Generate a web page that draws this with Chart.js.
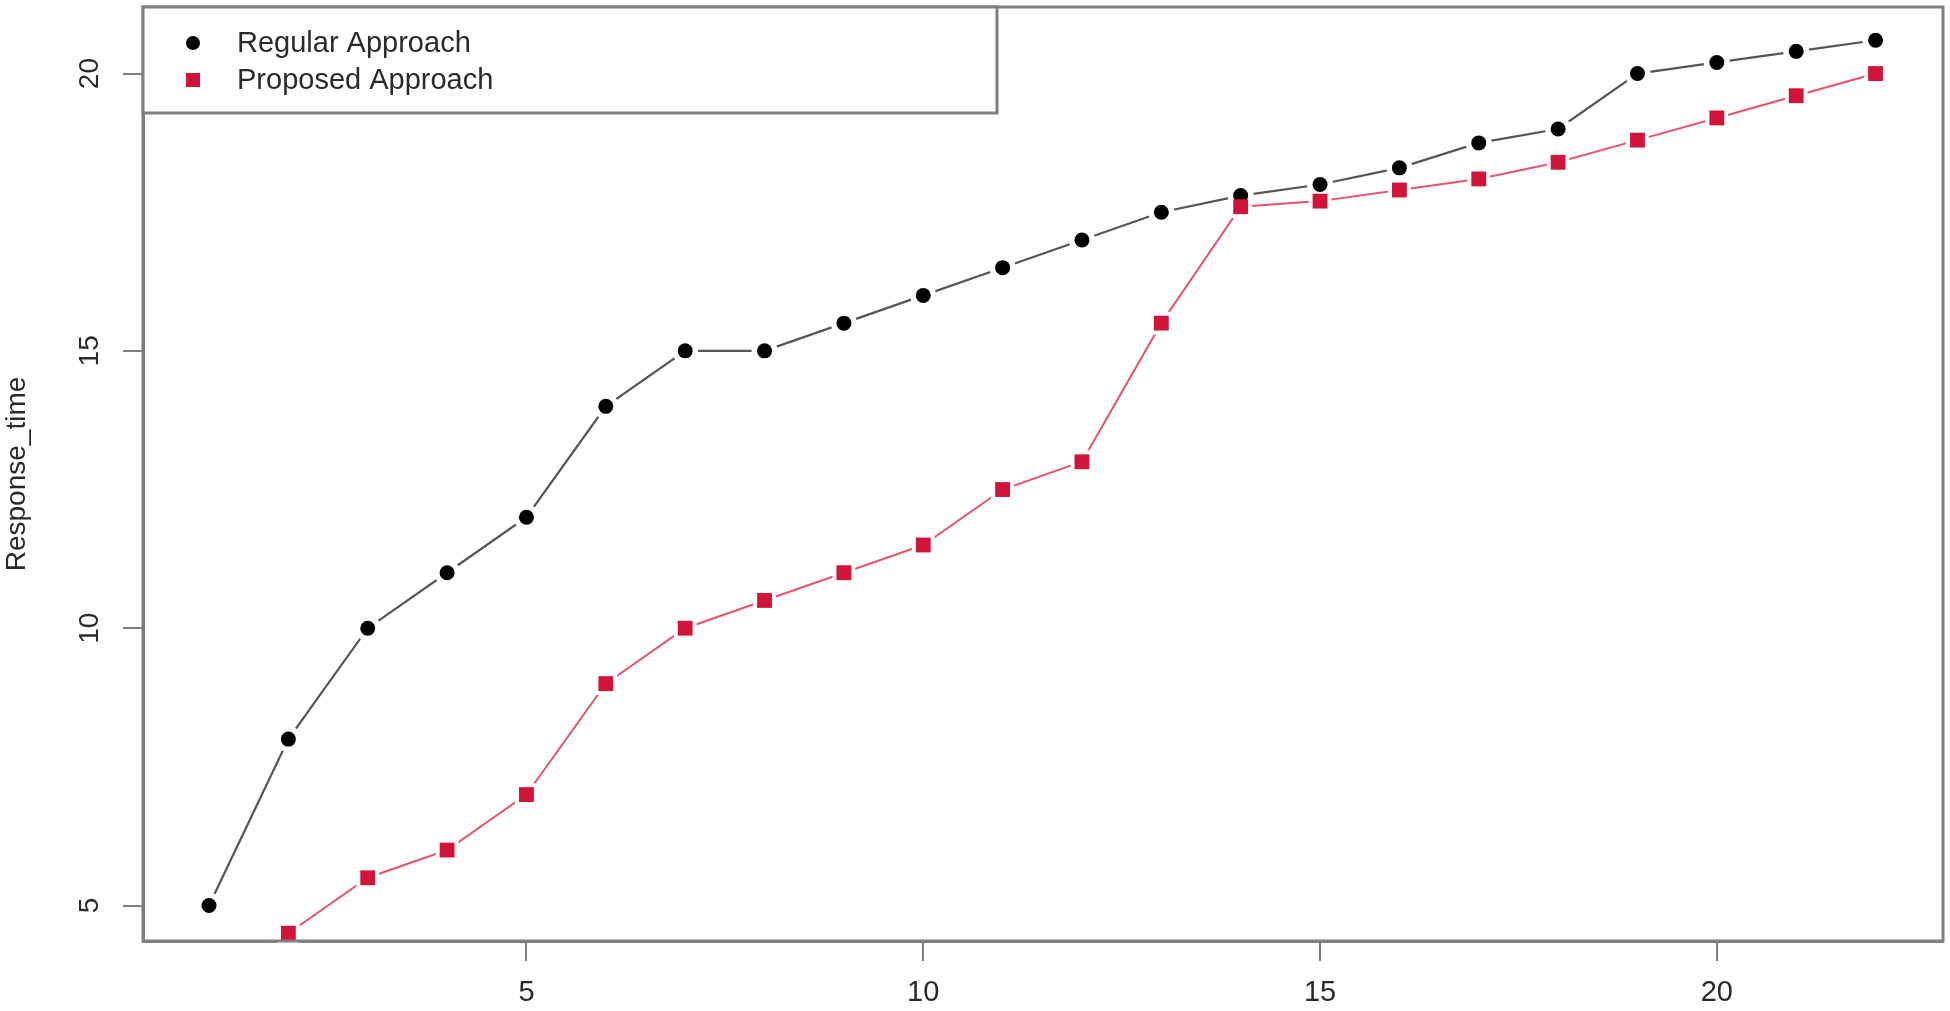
<!DOCTYPE html>
<html>
<head>
<meta charset="utf-8">
<script src="https://cdn.jsdelivr.net/npm/chart.js@4.4.1/dist/chart.umd.min.js"></script>
<style>
  html, body { margin: 0; padding: 0; background: #fff; }
  #box { width: 1950px; height: 1011px; }
</style>
</head>
<body>
<div id="box"><canvas id="grafico" width="1950" height="1011"></canvas></div>
<script>
const passos = [1, 2, 3, 4, 5, 6, 7, 8, 9, 10, 11, 12, 13, 14, 15, 16, 17, 18, 19, 20, 21, 22];
const regular = [5, 8, 10, 11, 12, 14, 15, 15, 15.5, 16, 16.5, 17, 17.5, 17.8, 18, 18.3, 18.75, 19, 20, 20.2, 20.4, 20.6];
const proposto = [null, 4.5, 5.5, 6, 7, 9, 10, 10.5, 11, 11.5, 12.5, 13, 15.5, 17.6, 17.7, 17.9, 18.1, 18.4, 18.8, 19.2, 19.6, 20];
const ticksX = [5, 10, 15, 20];
const ticksY = [5, 10, 15, 20];
const nomes = ['Regular Approach', 'Proposed Approach'];

const fonte = 'Liberation Sans, Arial, Helvetica, sans-serif';
const corEixo = '#7f7f7f';
const corTexto = '#2a2a2a';

const pontos = serie => passos
  .map((p, i) => ({ x: p, y: serie[i] }))
  .filter(p => p.y !== null);

// moldura, rotulos do eixo y (rodados como no R) e legenda com caixa
const extras = {
  id: 'extras',
  afterDatasetsDraw(chart) {
    const { ctx, chartArea: a } = chart;
    ctx.save();
    ctx.strokeStyle = corEixo;
    ctx.lineWidth = 3;
    ctx.strokeRect(a.left, a.top, a.right - a.left, a.bottom - a.top);
    ctx.restore();
  },
  afterDraw(chart) {
    const { ctx, chartArea: a } = chart;
    const y = chart.scales.y;
    ctx.save();
    ctx.fillStyle = corTexto;
    ctx.font = '28px ' + fonte;
    ctx.textAlign = 'center';
    ctx.textBaseline = 'middle';
    ticksY.forEach(v => {
      ctx.save();
      ctx.translate(90, y.getPixelForValue(v));
      ctx.rotate(-Math.PI / 2);
      ctx.fillText(String(v), 0, 0);
      ctx.restore();
    });

    // legenda
    const bx = a.left, by = a.top, bw = 997 - a.left, bh = 113 - a.top;
    ctx.fillStyle = '#fff';
    ctx.fillRect(bx, by, bw, bh);
    ctx.strokeStyle = corEixo;
    ctx.lineWidth = 3;
    ctx.strokeRect(bx, by, bw, bh);

    ctx.fillStyle = '#000';
    ctx.beginPath();
    ctx.arc(193, 43, 7, 0, Math.PI * 2);
    ctx.fill();
    ctx.fillStyle = '#d2143a';
    ctx.fillRect(186, 73, 14, 14);

    ctx.fillStyle = corTexto;
    ctx.font = '29px ' + fonte;
    ctx.textAlign = 'left';
    ctx.fillText(nomes[0], 237, 44);
    ctx.fillText(nomes[1], 237, 81);
    ctx.restore();
  }
};

const semPadding = s => { s.paddingTop = 0; s.paddingBottom = 0; s.paddingLeft = 0; s.paddingRight = 0; };

// linhas com um disco branco em cada ponto (o "buraco" do type = "b" do R)
const linha = (nome, serie, cor, largura, estilo, raio, ordem) => ({
  label: nome, data: pontos(serie), order: ordem,
  borderColor: cor, borderWidth: largura,
  pointStyle: estilo, pointRadius: raio, pointBorderWidth: 0,
  pointBackgroundColor: '#fff', tension: 0, clip: false
});
// marcadores por cima
const marcas = (nome, serie, cor, estilo, raio, ordem) => ({
  label: nome, data: pontos(serie), order: ordem, showLine: false,
  pointStyle: estilo, pointRadius: raio, pointBorderWidth: 0,
  pointBackgroundColor: cor, clip: false
});

const ctx = document.getElementById('grafico').getContext('2d');
new Chart(ctx, {
  type: 'line',
  data: {
    datasets: [
      linha(nomes[0], regular, '#555', 2.2, 'circle', 13, 3),
      linha(nomes[1], proposto, 'rgba(222, 40, 72, 0.8)', 2, 'rect', 16, 2),
      marcas(nomes[0], regular, '#000', 'circle', 7.5, 1),
      marcas(nomes[1], proposto, '#d2143a', 'rect', 10.5, 0)
    ]
  },
  options: {
    responsive: false,
    animation: false,
    events: [],
    layout: { autoPadding: false, padding: { top: 7, right: 7, left: 0, bottom: 0 } },
    plugins: {
      legend: { display: false },
      tooltip: { enabled: false }
    },
    scales: {
      x: {
        type: 'linear',
        min: 0.168,
        max: 22.85,
        afterBuildTicks: s => { s.ticks = ticksX.map(v => ({ value: v })); },
        afterFit: s => { s.height = 70; semPadding(s); },
        grid: { drawOnChartArea: false, drawTicks: true, tickLength: 20, color: corEixo, lineWidth: 2 },
        border: { display: true, color: corEixo, width: 3 },
        ticks: {
          autoSkip: false, maxRotation: 0, minRotation: 0, padding: 15,
          color: corTexto, font: { family: fonte, size: 29 }
        }
      },
      y: {
        type: 'linear',
        min: 4.36,
        max: 21.2,
        afterBuildTicks: s => { s.ticks = ticksY.map(v => ({ value: v })); },
        afterFit: s => { s.width = 143; semPadding(s); },
        grid: { drawOnChartArea: false, drawTicks: true, tickLength: 20, color: corEixo, lineWidth: 2 },
        border: { display: true, color: corEixo, width: 3 },
        ticks: { display: false },
        title: {
          display: true,
          text: 'Response_time',
          color: corTexto,
          padding: 0,
          font: { family: fonte, size: 28 }
        }
      }
    }
  },
  plugins: [extras]
});
</script>
</body>
</html>
